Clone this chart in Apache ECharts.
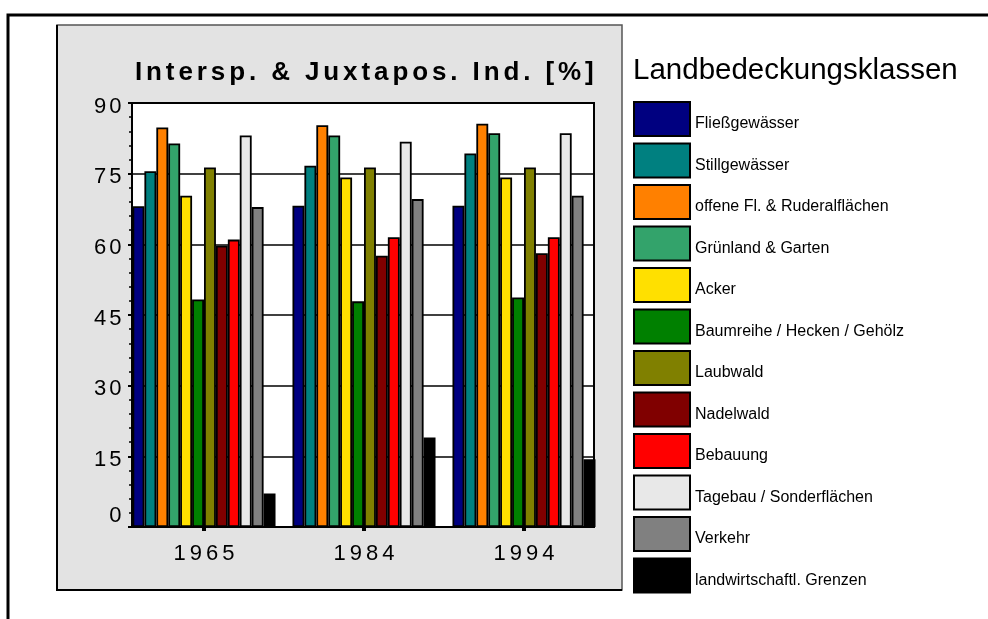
<!DOCTYPE html>
<html>
<head>
<meta charset="utf-8">
<script src="https://cdn.jsdelivr.net/npm/echarts@6/dist/echarts.min.js"></script>
<style>
  html, body { margin: 0; padding: 0; background: #fff; }
  #chart { width: 988px; height: 619px; }
</style>
</head>
<body>
<div id="chart"></div>
<script>
// Jahre (Kategorien)
const categories = ['1965', '1984', '1994'];
// Landbedeckungsklassen
const classes = [
  'Fließgewässer', 'Stillgewässer', 'offene Fl. & Ruderalflächen', 'Grünland & Garten',
  'Acker', 'Baumreihe / Hecken / Gehölz', 'Laubwald', 'Nadelwald', 'Bebauung',
  'Tagebau / Sonderflächen', 'Verkehr', 'landwirtschaftl. Grenzen'
];
const classColors = [
  '#000080', '#008080', '#ff8000', '#33a36b', '#ffe000', '#008000',
  '#808000', '#800000', '#ff0000', '#e8e8e8', '#808080', '#000000'
];
// Werte je Jahr (Reihenfolge wie classes)
const values1965 = [68.1, 75.5, 84.8, 81.4, 70.3, 48.3, 76.3, 59.7, 61.0, 83.1, 67.9, 7.1];
const values1984 = [68.2, 76.7, 85.3, 83.1, 74.2, 47.9, 76.3, 57.6, 61.5, 81.8, 69.6, 19.0];
const values1994 = [68.2, 79.3, 85.6, 83.6, 74.2, 48.7, 76.3, 58.1, 61.5, 83.6, 70.3, 14.4];
const yTicks = [0, 15, 30, 45, 60, 75, 90];

const FONT = '"Liberation Sans", Arial, sans-serif';

// Buchstaben sperren über rich-text Tokens
function spaced(str, key) {
  return str.split('').map(function (c) { return '{' + key + '|' + c + '}'; }).join('');
}

const chart = echarts.init(document.getElementById('chart'));

const series = classes.map(function (name, i) {
  return {
    type: 'bar',
    name: name,
    xAxisIndex: 1,
    yAxisIndex: 1,
    data: [values1965[i], values1984[i], values1994[i]],
    barGap: '0%',
    barCategoryGap: '10.6%',
    itemStyle: { color: classColors[i], borderColor: '#000', borderWidth: 1.8 }
  };
});

const option = {
  animation: false,
  backgroundColor: '#fff',
  graphic: [
    {
      type: 'polyline', z: -20, silent: true,
      shape: { points: [[8, 619], [8, 15], [988, 15]] },
      style: { stroke: '#000', lineWidth: 3, fill: null }
    },
    {
      type: 'rect', z: -15, silent: true,
      shape: { x: 57, y: 25, width: 565, height: 565 },
      style: { fill: '#e3e3e3', stroke: '#555', lineWidth: 1.5 }
    },
    {
      type: 'polyline', z: -14, silent: true,
      shape: { points: [[57, 25], [57, 590], [622, 590]] },
      style: { stroke: '#000', lineWidth: 2, fill: null }
    }
  ],
  title: [
    {
      text: spaced('Intersp. & Juxtapos. Ind. [%]', 't'),
      left: 133, top: 60, padding: 0,
      textStyle: {
        rich: {
          t: { fontFamily: FONT, fontWeight: 'bold', fontSize: 26, color: '#000', padding: [0, 1.95, 0, 1.95] }
        }
      }
    },
    {
      text: 'Landbedeckungsklassen',
      left: 633, top: 56, padding: 0,
      textStyle: { fontFamily: FONT, fontWeight: 'normal', fontSize: 29.5, color: '#000' }
    }
  ],
  legend: {
    data: classes,
    orient: 'vertical',
    left: 633, top: 101,
    padding: 0,
    itemWidth: 56, itemHeight: 34, itemGap: 5.5,
    icon: 'rect',
    selectedMode: false,
    formatter: function (name) { return '{l|' + name + '}'; },
    textStyle: {
      rich: { l: { fontFamily: FONT, fontSize: 16, color: '#000', padding: [10, 0, 0, 0] } }
    }
  },
  grid: [
    // Rahmen / Plotfläche
    { left: 132, top: 103, width: 462, height: 424, show: true, backgroundColor: '#fff', borderColor: '#000', borderWidth: 2 },
    // Balken
    { left: 124, top: 103, width: 480, height: 424 }
  ],
  xAxis: [
    { gridIndex: 0, type: 'value', min: 0, max: 1, show: false },
    {
      gridIndex: 1, type: 'category', data: categories,
      axisLine: { show: false },
      axisTick: { show: true, alignWithLabel: true, length: 4, lineStyle: { color: '#000', width: 4 } },
      axisLabel: {
        margin: 16,
        formatter: function (v) { return spaced(v, 'x'); },
        rich: { x: { fontFamily: FONT, fontSize: 22, color: '#000', padding: [0, 2, 0, 2] } }
      },
      splitLine: { show: false }
    }
  ],
  yAxis: [
    {
      gridIndex: 0, type: 'value', min: yTicks[0], max: yTicks[yTicks.length - 1], interval: 15,
      axisLine: { show: true, lineStyle: { color: '#000', width: 2 } },
      axisTick: { show: true, length: 4, lineStyle: { color: '#000', width: 2 } },
      minorTick: { show: true, splitNumber: 5, length: 3, lineStyle: { color: '#000', width: 1.5 } },
      splitLine: { show: true, lineStyle: { color: '#000', width: 1.5 } },
      axisLabel: {
        margin: 9,
        formatter: function (v) { return spaced(String(v), v === 0 ? 'z' : 'n'); },
        rich: {
          n: { fontFamily: FONT, fontSize: 22, color: '#000', padding: [7, 1.5, 0, 1.5] },
          z: { fontFamily: FONT, fontSize: 22, color: '#000', padding: [0, 1.5, 22, 1.5] }
        }
      }
    },
    { gridIndex: 1, type: 'value', min: 0, max: 90, show: false }
  ],
  series: series
};

chart.setOption(option);
</script>
</body>
</html>
